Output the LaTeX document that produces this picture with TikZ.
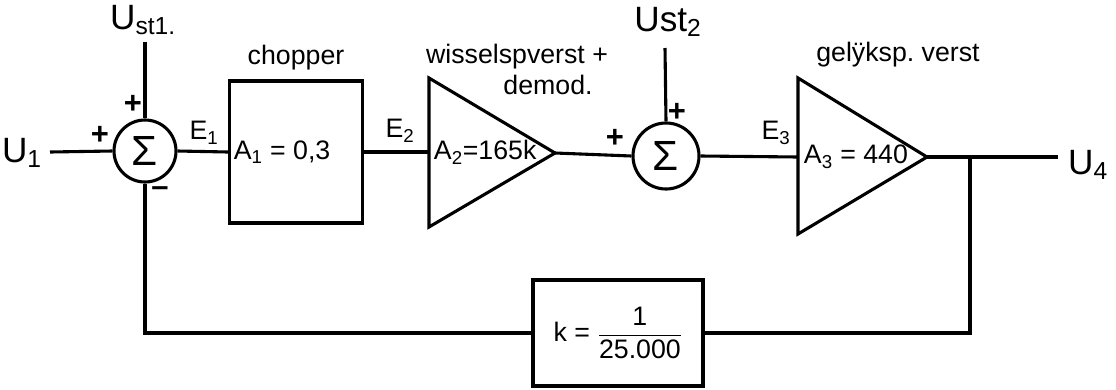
\documentclass[tikz,border=0pt]{standalone}
\usepackage{fontspec}
\setmainfont{Liberation Sans}
\usepackage{amsmath}
\usetikzlibrary{positioning, calc}

\begin{document}
\begin{tikzpicture}[x=0.025cm, y=-0.025cm, line width=2.2pt,
  sumnode/.style={draw, circle, inner sep=0pt, font=\fontsize{30}{32}\selectfont},
  block/.style={draw, rectangle, inner sep=0pt},
  lbl/.style={font=\fontsize{19}{22}\selectfont, inner sep=1pt},
  port/.style={font=\fontsize{25}{28}\selectfont, inner sep=1pt},
  sign/.style={font=\fontsize{22}{24}\selectfont\bfseries, inner sep=0pt}]

  \useasboundingbox (0,0) rectangle (1116,389);

  % summing points
  \node[sumnode, minimum size=1.55cm] (sum1) at (145,151) {Σ};
  \node[sumnode, minimum size=1.65cm] (sum2) at (666,156) {Σ};

  % blocks
  \node[block, minimum width=3.33cm, minimum height=3.55cm] (chop) at (296,152) {};
  \node[block, lbl, minimum width=4.25cm, minimum height=2.65cm] (kbox) at (618,333)
    {k = $\dfrac{\text{1}}{\text{25.000}}$};

  % amplifiers
  \coordinate (amp1top) at (429,78);
  \coordinate (amp1bot) at (429,227);
  \coordinate (amp1in) at (429,152);
  \coordinate (amp1tip) at (555,153);
  \draw (amp1top) -- (amp1tip) -- (amp1bot) -- cycle;
  \coordinate (amp2top) at (798,78);
  \coordinate (amp2bot) at (798,234);
  \coordinate (amp2in) at (798,157);
  \coordinate (amp2tip) at (927,157);
  \draw (amp2top) -- (amp2tip) -- (amp2bot) -- cycle;

  % gains
  \node[lbl, anchor=west] (gain1) at ($(chop.west)+(3,0)$) {A\textsubscript{1} = 0,3};
  \node[lbl, anchor=west] (gain2) at ($(amp1in)+(2,0)$) {A\textsubscript{2}=165k};
  \node[lbl, anchor=west] (gain3) at ($(amp2in)+(3,0)$) {A\textsubscript{3} = 440};

  % titles
  \node[lbl] (chopname) at (296,58) {chopper};
  \node[lbl] (amp1name) at (517,57) {wisselspverst +};
  \node[lbl] (demodname) at (548,85) {demod.};
  \node[lbl] (amp2name) at (898,55) {gelÿksp.\ verst};

  % signals
  \coordinate (in) at (50,152);
  \coordinate (st1) at (145,42);
  \coordinate (st2) at (665,48);
  \coordinate (out) at (1058,157);
  \coordinate (br) at (970,157);
  \node[port] (u1lbl) at (22,153) {U\textsubscript{1}};
  \node[port] (ust1lbl) at (143,20) {U\textsubscript{st1.}};
  \node[port] (ust2lbl) at (668,22) {Ust\textsubscript{2}};
  \node[port] (u4lbl) at (1088,165) {U\textsubscript{4}};
  \node[lbl] (e1) at (204,133) {E\textsubscript{1}};
  \node[lbl] (e2) at (400,131) {E\textsubscript{2}};
  \node[lbl] (e3) at (776,133) {E\textsubscript{3}};

  % signs
  \node[sign] (p1) at (133,104) {+};
  \node[sign] (p2) at (100,135) {+};
  \node[sign] (m1) at (160,192) {--};
  \node[sign] (p3) at (615,138) {+};
  \node[sign] (p4) at (677,112) {+};

  % connections
  \draw (in) -- (sum1.west);
  \draw (st1) -- (sum1.north);
  \draw (sum1.east) -- (chop.west);
  \draw (chop.east) -- (amp1in);
  \draw (amp1tip) -- (sum2.west);
  \draw (st2) -- (sum2.north);
  \draw (sum2.east) -- (amp2in);
  \draw (amp2tip) -- (out);
  \draw (br) |- (kbox.east);
  \draw (kbox.west) -| (sum1.south);
\end{tikzpicture}
\end{document}
